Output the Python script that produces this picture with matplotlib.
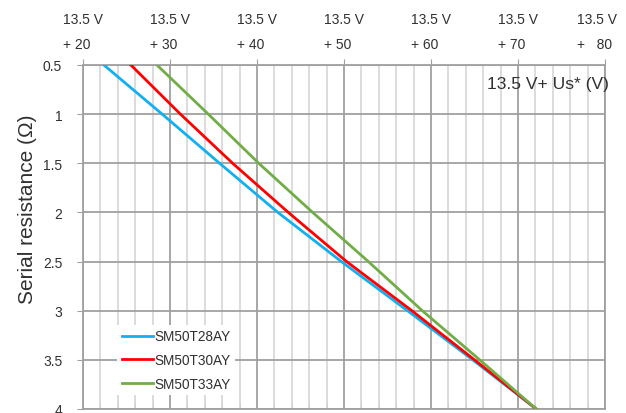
import matplotlib
matplotlib.use("Agg")
import matplotlib.pyplot as plt
from matplotlib import font_manager
from matplotlib.ticker import MultipleLocator, FixedLocator
import matplotlib.transforms as mtransforms

# pick a narrow sans if it is there (the original looks like squeezed Calibri)
names = {f.name for f in font_manager.fontManager.ttflist}
base = 'Liberation Sans Narrow' if 'Liberation Sans Narrow' in names else 'Liberation Sans'
plt.rcParams['font.family'] = [base, 'DejaVu Sans']

# data (x = Us* in V, y = serial resistance in ohm)
resistance = [0.5, 1.0, 1.5, 2.0, 2.5, 3.0, 3.5, 4.0]
us_28 = [22.4, 29.1, 35.7, 42.4, 49.7, 57.3, 64.8, 72.1]
us_30 = [25.5, 31.2, 37.2, 43.6, 50.3, 57.8, 65.0, 72.1]
us_33 = [28.5, 34.4, 40.2, 46.4, 52.8, 59.0, 65.6, 72.1]
names_series = ['SM50T28AY', 'SM50T30AY', 'SM50T33AY']
colors = ['#12b0ee', '#ff0000', '#70ad47']

x_ticks = [20, 30, 40, 50, 60, 70, 80]
x_labels = ['13.5 V\n+ 20', '13.5 V\n+ 30', '13.5 V\n+ 40', '13.5 V\n+ 50',
            '13.5 V\n+ 60', '13.5 V\n+ 70', '13.5 V\n+   80']
y_ticks = [0.5, 1, 1.5, 2, 2.5, 3, 3.5, 4]
y_labels = ['0.5', '1', '1.5', '2', '2.5', '3', '3.5', '4']

fs = 10 if base == 'Liberation Sans' else 11.5

fig = plt.figure(figsize=(6.26, 4.14), dpi=100)
ax = fig.add_axes([83/626, 1 - 410/414, (605-83)/626, (410-66)/414])

for xs, name, c in zip([us_28, us_30, us_33], names_series, colors):
    ax.plot(xs, resistance, color=c, lw=2.0, label=name, zorder=3)

ax.set_xlim(20, 80)
ax.set_ylim(4, 0.5)

ax.xaxis.set_major_locator(FixedLocator(x_ticks))
ax.xaxis.set_minor_locator(MultipleLocator(2))
ax.set_xticklabels(x_labels, linespacing=2.0, ha='center', multialignment='left')
ax.xaxis.tick_top()
ax.yaxis.set_major_locator(FixedLocator(y_ticks))
ax.set_yticklabels(y_labels)

ax.grid(which='major', axis='both', color='#a0a0a0', lw=1.3, zorder=1)
ax.grid(which='minor', axis='x', color='#d9d9d9', lw=1.3, zorder=0)
ax.set_axisbelow(True)

for s in ax.spines.values():
    s.set_color('#a0a0a0')
    s.set_linewidth(1.3)

ax.tick_params(axis='x', which='major', top=True, bottom=False, direction='out',
               length=4, color='#a0a0a0', labelsize=fs, labelcolor='#303030', pad=6)
ax.tick_params(axis='x', which='minor', top=False, bottom=True, direction='in',
               length=5, color='#d0d0d0')
ax.tick_params(axis='y', which='major', left=True, direction='out', length=4,
               color='#a0a0a0', labelsize=fs, labelcolor='#303030', pad=11)

# last top label sits a bit to the left in the original
lab = ax.get_xticklabels()[-1]
lab.set_transform(lab.get_transform() + mtransforms.ScaledTranslation(-8/100, 0, fig.dpi_scale_trans))

ax.set_ylabel('Serial resistance (Ω)', fontsize=15, color='#303030')
ax.yaxis.set_label_coords(-0.088, 0.585)

ax.text(1.008, 0.945, '13.5 V+ Us* (V)', transform=ax.transAxes, ha='right', va='center',
        fontsize=12.5, color='#303030')

leg = ax.legend(loc='center left', bbox_to_anchor=(0.066, 0.142), fontsize=9.8,
                frameon=True, fancybox=False, framealpha=1, edgecolor='none',
                facecolor='white', handlelength=2.3, handletextpad=0.15,
                labelspacing=0.72, borderpad=0.3, borderaxespad=0)
for t in leg.get_texts():
    t.set_color('#303030')

fig.savefig('out.png', dpi=100)
